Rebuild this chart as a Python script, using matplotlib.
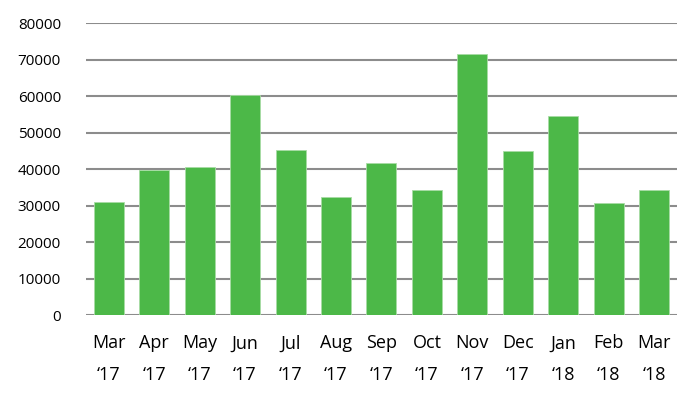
import matplotlib
matplotlib.use("Agg")
import matplotlib.pyplot as plt

plt.rcParams['font.family'] = ['Open Sans', 'DejaVu Sans']

months = ['Mar\n\u201817', 'Apr\n\u201817', 'May\n\u201817', 'Jun\n\u201817', 'Jul\n\u201817',
          'Aug\n\u201817', 'Sep\n\u201817', 'Oct\n\u201817', 'Nov\n\u201817', 'Dec\n\u201817',
          'Jan\n\u201818', 'Feb\n\u201818', 'Mar\n\u201818']
values = [31100, 39900, 40500, 60300, 45250, 32300, 41800, 34300, 71500, 44900, 54500, 30600, 34200]
yticks = [0, 10000, 20000, 30000, 40000, 50000, 60000, 70000, 80000]

fig = plt.figure(figsize=(6.95, 3.94), dpi=100)
ax = fig.add_axes([0.1237, 0.2005, 0.8503, 0.7404])

x = range(len(values))
ax.bar(x, values, width=0.66, color='#4cb848', edgecolor='#a8dca5', linewidth=0.6, zorder=3)

ax.set_xlim(-0.5, len(values) - 0.5)
ax.set_ylim(0, 80000)
ax.set_yticks(yticks)
ax.set_yticklabels([str(v) for v in yticks], fontsize=11)
ax.set_xticks(list(x))
ax.set_xticklabels(months, fontsize=13, linespacing=1.95)
ax.grid(axis='y', color='#8c8c8c', linewidth=1.5, zorder=0)
ax.tick_params(axis='both', length=0, colors='#000000')
ax.tick_params(axis='x', pad=14)
ax.tick_params(axis='y', pad=18)
for s in ax.spines.values():
    s.set_visible(False)

fig.savefig('out.png', dpi=100)
